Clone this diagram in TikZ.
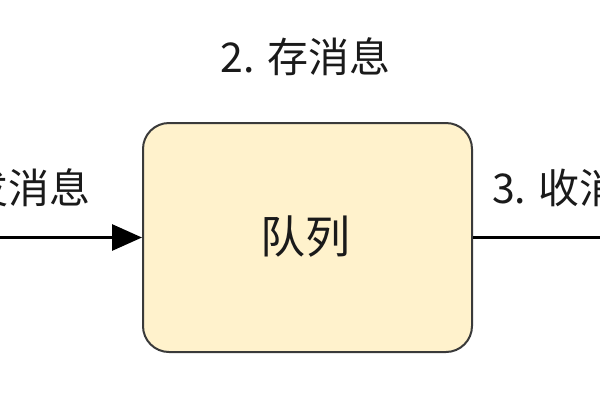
\documentclass[tikz,border=0pt]{standalone}
\usepackage{fontspec}
\setmainfont{Noto Sans CJK SC}
\usetikzlibrary{arrows.meta}
\definecolor{boxfill}{HTML}{FFF2CC}
\definecolor{boxline}{HTML}{3A3A3A}
\definecolor{txt}{HTML}{1A1A1A}
\begin{document}
\begin{tikzpicture}[x=1pt,y=-1pt,
  lbl/.style={inner sep=0pt,text=txt,font=\fontsize{41}{44}\selectfont},
  queuebox/.style={draw=boxline,line width=2pt,fill=boxfill,rounded corners=26pt,
    minimum width=329pt,minimum height=229pt,inner sep=0pt,text=txt,
    font=\fontsize{45}{48}\selectfont},
  conn/.style={line width=3pt,draw=black}]
\useasboundingbox (0,0) rectangle (600,400);
\clip (0,0) rectangle (600,400);
\fill[white] (0,0) rectangle (600,400);
\node[queuebox] (q) at (307.5,237.5) {};
\node[inner sep=0pt,text=txt,font=\fontsize{45}{48}\selectfont] (qt) at (305,237) {队列};
\coordinate (L) at (-5,237.5);
\coordinate (R) at (605,237.5);
\draw[conn,-{Triangle[length=30pt,width=26pt]}] (L) -- (q.west);
\draw[conn] (q.east) -- (R);
\node[lbl] (top) at (305.5,57) {2. 存消息};
\node[lbl,anchor=east] (left) at (91,188) {1. 发消息};
\node[lbl,anchor=west] (right) at (492,188) {3. 收消息};
\end{tikzpicture}
\end{document}
